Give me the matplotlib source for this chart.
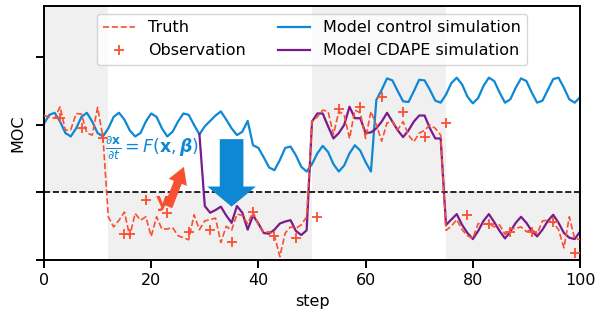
import numpy as np
import matplotlib
matplotlib.use("Agg")
import matplotlib.pyplot as plt

# MOC time series (one value per step)
steps = np.arange(101)
truth = [2.14, 2.12, 2.10, 2.27, 1.92, 1.93, 2.17, 2.16, 1.88, 1.85,
         2.26, 1.82, 0.64, 0.49, 0.59, 0.71, 0.35, 0.69, 0.59, 0.64,
         0.35, 0.64, 0.46, 0.46, 0.48, 0.36, 0.33, 0.30, 0.67, 0.45,
         0.58, 0.60, 0.62, 0.26, 0.50, 0.44, 0.68, 0.66, 0.54, 0.71,
         0.52, 0.40, 0.42, 0.36, 0.05, 0.40, 0.49, 0.47, 0.52, 0.64,
         2.05, 2.12, 2.22, 2.20, 1.86, 2.20, 2.15, 1.80, 2.22, 2.18,
         1.80, 2.20, 2.00, 1.76, 2.03, 2.05, 1.93, 2.05, 1.85, 1.75,
         1.88, 1.92, 2.00, 1.95, 1.85, 0.44, 0.50, 0.60, 0.45, 0.36,
         0.32, 0.54, 0.53, 0.54, 0.49, 0.52, 0.38, 0.46, 0.47, 0.49,
         0.42, 0.45, 0.39, 0.58, 0.59, 0.55, 0.45, 0.18, 0.64, 0.32,
         0.30]
control = [2.02, 2.15, 2.18, 2.05, 1.88, 1.83, 1.95, 2.12, 2.18, 2.05,
           1.88, 1.83, 1.95, 2.12, 2.18, 2.08, 1.92, 1.83, 1.88, 2.05,
           2.17, 2.12, 1.95, 1.83, 1.90, 2.05, 2.17, 2.15, 2.00, 1.86,
           1.98, 2.06, 2.14, 2.20, 2.08, 1.95, 1.85, 1.90, 2.06, 1.70,
           1.66, 1.52, 1.37, 1.33, 1.48, 1.66, 1.68, 1.55, 1.38, 1.31,
           1.42, 1.58, 1.69, 1.60, 1.42, 1.31, 1.40, 1.58, 1.70, 1.62,
           1.45, 1.31, 2.37, 2.52, 2.69, 2.66, 2.50, 2.35, 2.34, 2.50,
           2.67, 2.66, 2.52, 2.36, 2.33, 2.45, 2.62, 2.70, 2.60, 2.42,
           2.32, 2.40, 2.58, 2.70, 2.65, 2.48, 2.33, 2.38, 2.55, 2.69,
           2.65, 2.48, 2.33, 2.36, 2.52, 2.68, 2.70, 2.55, 2.38, 2.33,
           2.41]
cdape_start = 29
cdape = [1.86, 0.80, 0.70, 0.74, 0.79, 0.66, 0.55, 0.80, 0.70, 0.45,
         0.66, 0.54, 0.40, 0.39, 0.45, 0.54, 0.57, 0.59, 0.43, 0.37,
         0.44, 2.05, 2.17, 2.17, 1.98, 1.80, 1.88, 2.00, 2.27, 2.10,
         2.10, 1.88, 1.89, 1.95, 2.05, 2.18, 2.05, 1.92, 1.82, 1.92,
         2.05, 2.14, 2.14, 1.95, 1.80, 1.80, 0.52, 0.60, 0.68, 0.52,
         0.40, 0.31, 0.43, 0.58, 0.68, 0.56, 0.43, 0.32, 0.42, 0.55,
         0.64, 0.55, 0.43, 0.35, 0.45, 0.58, 0.67, 0.55, 0.40, 0.33,
         0.31, 0.42]
obs_steps = [3, 7, 11, 15, 16, 19, 23, 27, 31, 35, 39, 43, 47, 51,
             55, 59, 63, 67, 71, 75, 79, 83, 87, 91, 95, 99]
obs_values = [2.11, 1.95, 1.81, 0.38, 0.38, 0.89, 0.70, 0.41, 0.45, 0.27,
              0.71, 0.36, 0.32, 0.63, 2.23, 2.27, 2.42, 2.19, 1.82, 2.03,
              0.67, 0.54, 0.42, 0.42, 0.57, 0.11]

# regimes of the truth (shaded on the side of the threshold the truth is on)
regime_edges = [0, 12, 50, 75, 100]
regime_high = [True, False, True, False]
threshold = 1.0
ymax = 3.76

red = '#fa5032'
blue = '#0e88d3'
purple = '#7a1a8c'

plt.rcParams['font.size'] = 11.5

fig = plt.figure(figsize=(6, 3.22), dpi=100)
ax = fig.add_axes([0.0733, 0.1925, 0.8934, 0.7885])

for i in range(len(regime_high)):
    x0, x1 = regime_edges[i], regime_edges[i + 1]
    if regime_high[i]:
        ax.fill_between([x0, x1], threshold, ymax, color='#f0f0f0', lw=0, zorder=0)
    else:
        ax.fill_between([x0, x1], 0, threshold, color='#f0f0f0', lw=0, zorder=0)

ax.axhline(threshold, color='k', ls='--', lw=1.2, zorder=1)

ax.plot(steps, truth, '--', color=red, lw=1.2, label='Truth', zorder=3)
ax.plot(obs_steps, obs_values, '+', color=red, ms=6.5, mew=1.3,
        label='Observation', zorder=4)
ax.plot(steps, control, '-', color=blue, lw=1.6,
        label='Model control simulation', zorder=2)
ax.plot(steps[cdape_start:], cdape, '-', color=purple, lw=1.6,
        label='Model CDAPE simulation', zorder=2)

# annotations
ax.text(11.3, 1.66, r'$\frac{\partial \mathbf{x}}{\partial t} = F(\mathbf{x}, \boldsymbol{\beta})$',
        color=blue, fontsize=12.5, ha='left', va='center', zorder=5)
ax.text(22.0, 0.86, 'y', color=red, fontsize=14.5, fontweight='bold',
        ha='center', va='center', zorder=5)
ax.annotate('', xy=(26.1, 1.38), xytext=(23.2, 0.79),
            arrowprops=dict(arrowstyle='simple,head_width=14,head_length=12,tail_width=6',
                            mutation_scale=1, color=red, shrinkA=0, shrinkB=0, lw=0),
            zorder=5)
ax.annotate('', xy=(35.0, 0.79), xytext=(35.0, 1.79),
            arrowprops=dict(arrowstyle='simple,head_width=35,head_length=14.5,tail_width=17',
                            mutation_scale=1, color=blue, shrinkA=0, shrinkB=0, lw=0),
            zorder=5)

ax.set_xlim(0, 100)
ax.set_ylim(0, ymax)
ax.set_xticks([0, 20, 40, 60, 80, 100])
ax.set_yticks([0, 1, 2, 3])
ax.set_yticklabels([])
ax.tick_params(width=1.4, length=6)
for s in ax.spines.values():
    s.set_linewidth(1.4)
ax.set_xlabel('step')
ax.set_ylabel('MOC')
ax.legend(loc='upper center', ncol=2, fontsize=11.5)

fig.savefig('out.png', dpi=100)
